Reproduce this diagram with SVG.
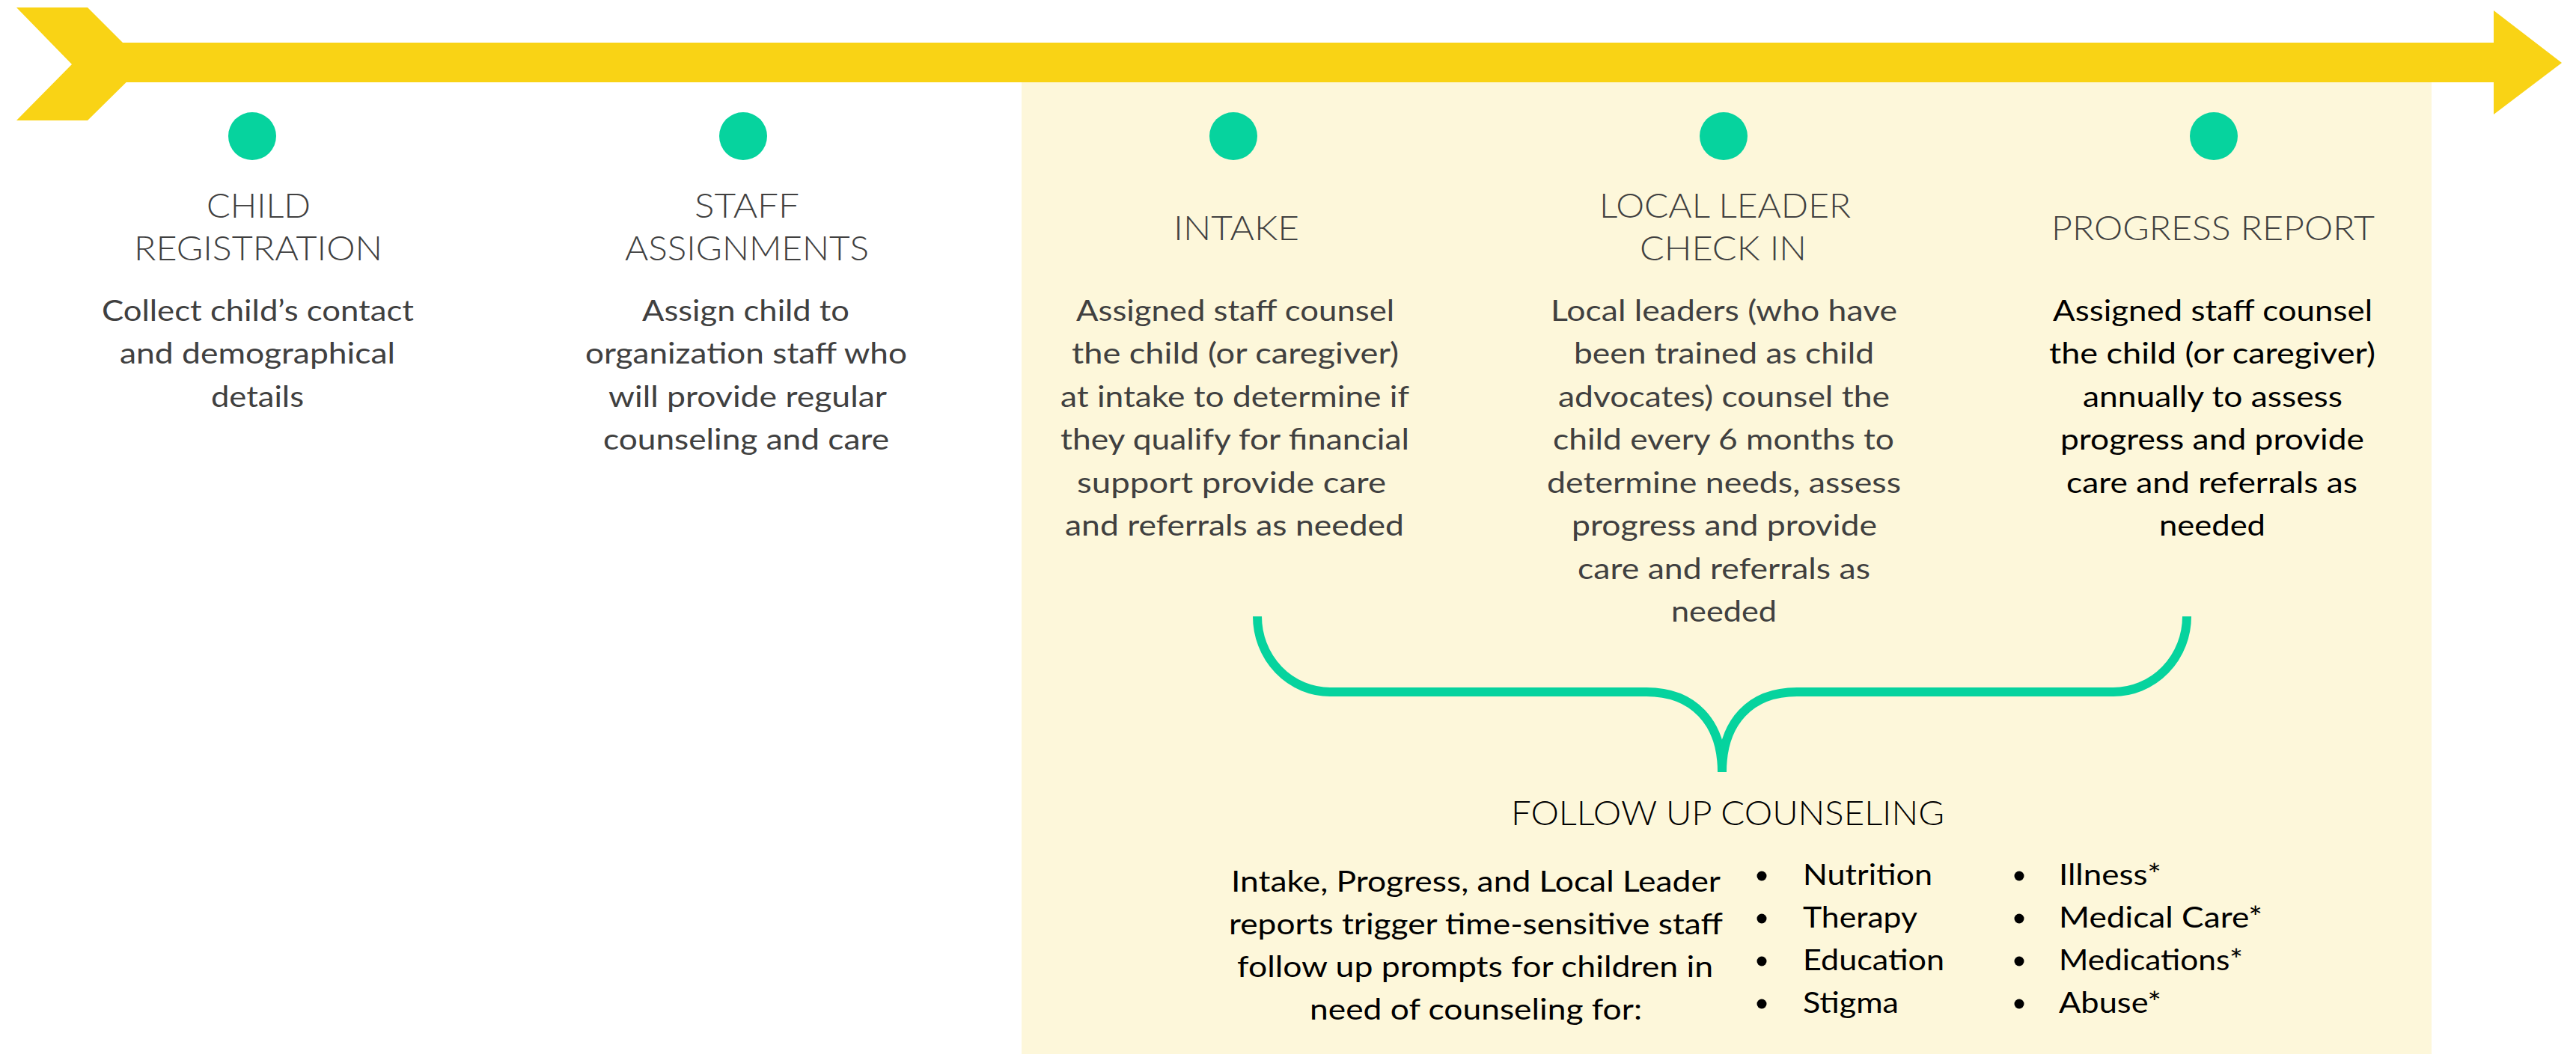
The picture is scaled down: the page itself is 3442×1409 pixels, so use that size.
<svg xmlns="http://www.w3.org/2000/svg" width="3442" height="1409" viewBox="0 0 3442 1409">
<style>
.t{font-family:Lato,"Liberation Sans",sans-serif;font-weight:300;font-size:46px;fill:#404040;text-anchor:middle}
.b{font-family:Lato,"Liberation Sans",sans-serif;font-weight:400;font-size:39px;fill:#404040;text-anchor:middle}
.k{fill:#000}
.s{text-anchor:start}
.dot{fill:#06D39E}
.bul{fill:#000}
</style>
<rect width="3442" height="1409" fill="#FFFFFF"/>
<rect id="panel" x="1365" y="110" width="1884" height="1299" fill="#FDF7DA"/>
<g id="timeline" fill="#F9D315">
<rect x="140" y="57" width="3194" height="53"/>
<polygon points="22,10 117,10 193,86 117,161 22,161 96,86"/>
<polygon points="3332,14 3423,84 3332,153"/>
</g>
<g id="connectors">
<path d="M1680,824 A97,101 0 0 0 1777,925 L2200,925 C2262,925 2301,965 2301,1032" fill="none" stroke="#06D39E" stroke-width="12"/>
<path d="M2922,824 A98,101 0 0 1 2824,925 L2401,925 C2339,925 2301,965 2301,1032" fill="none" stroke="#06D39E" stroke-width="12"/>
</g>
<g id="child-registration">
<circle class="dot" cx="337" cy="182" r="32"/>
<text class="t" x="345.5" y="291" textLength="139" lengthAdjust="spacingAndGlyphs">CHILD</text>
<text class="t" x="345" y="348" textLength="332" lengthAdjust="spacingAndGlyphs">REGISTRATION</text>
<text class="b" x="344.5" y="429" textLength="417" lengthAdjust="spacingAndGlyphs">Collect child’s contact</text>
<text class="b" x="344" y="486" textLength="368" lengthAdjust="spacingAndGlyphs">and demographical</text>
<text class="b" x="344" y="544" textLength="124" lengthAdjust="spacingAndGlyphs">details</text>
</g>
<g id="staff-assignments">
<circle class="dot" cx="993" cy="182" r="32"/>
<text class="t" x="998" y="291" textLength="140" lengthAdjust="spacingAndGlyphs">STAFF</text>
<text class="t" x="998" y="348" textLength="326" lengthAdjust="spacingAndGlyphs">ASSIGNMENTS</text>
<text class="b" x="996.5" y="429" textLength="277" lengthAdjust="spacingAndGlyphs">Assign child to</text>
<text class="b" x="997" y="486" textLength="430" lengthAdjust="spacingAndGlyphs">organization staff who</text>
<text class="b" x="999" y="544" textLength="372" lengthAdjust="spacingAndGlyphs">will provide regular</text>
<text class="b" x="997" y="601" textLength="382" lengthAdjust="spacingAndGlyphs">counseling and care</text>
</g>
<g id="intake">
<circle class="dot" cx="1648" cy="182" r="32"/>
<text class="t" x="1652" y="321" textLength="168" lengthAdjust="spacingAndGlyphs">INTAKE</text>
<text class="b" x="1650.5" y="429" textLength="425" lengthAdjust="spacingAndGlyphs">Assigned staff counsel</text>
<text class="b" x="1650.5" y="486" textLength="437" lengthAdjust="spacingAndGlyphs">the child (or caregiver)</text>
<text class="b" x="1650" y="544" textLength="466" lengthAdjust="spacingAndGlyphs">at intake to determine if</text>
<text class="b" x="1650" y="601" textLength="466" lengthAdjust="spacingAndGlyphs">they qualify for financial</text>
<text class="b" x="1645.5" y="659" textLength="413" lengthAdjust="spacingAndGlyphs">support provide care</text>
<text class="b" x="1649.5" y="716" textLength="453" lengthAdjust="spacingAndGlyphs">and referrals as needed</text>
</g>
<g id="local-leader-check-in">
<circle class="dot" cx="2303" cy="182" r="32"/>
<text class="t" x="2305" y="291" textLength="336" lengthAdjust="spacingAndGlyphs">LOCAL LEADER</text>
<text class="t" x="2302.5" y="348" textLength="223" lengthAdjust="spacingAndGlyphs">CHECK IN</text>
<text class="b" x="2303.5" y="429" textLength="463" lengthAdjust="spacingAndGlyphs">Local leaders (who have</text>
<text class="b" x="2303.5" y="486" textLength="401" lengthAdjust="spacingAndGlyphs">been trained as child</text>
<text class="b" x="2303.5" y="544" textLength="443" lengthAdjust="spacingAndGlyphs">advocates) counsel the</text>
<text class="b" x="2303" y="601" textLength="456" lengthAdjust="spacingAndGlyphs">child every 6 months to</text>
<text class="b" x="2303.5" y="659" textLength="473" lengthAdjust="spacingAndGlyphs">determine needs, assess</text>
<text class="b" x="2304" y="716" textLength="408" lengthAdjust="spacingAndGlyphs">progress and provide</text>
<text class="b" x="2303.5" y="774" textLength="391" lengthAdjust="spacingAndGlyphs">care and referrals as</text>
<text class="b" x="2303.5" y="831" textLength="141" lengthAdjust="spacingAndGlyphs">needed</text>
</g>
<g id="progress-report">
<circle class="dot" cx="2958" cy="182" r="32"/>
<text class="t" x="2957" y="321" textLength="432" lengthAdjust="spacingAndGlyphs">PROGRESS REPORT</text>
<text class="b k" x="2956.5" y="429" textLength="427" lengthAdjust="spacingAndGlyphs">Assigned staff counsel</text>
<text class="b k" x="2956" y="486" textLength="436" lengthAdjust="spacingAndGlyphs">the child (or caregiver)</text>
<text class="b k" x="2956.5" y="544" textLength="347" lengthAdjust="spacingAndGlyphs">annually to assess</text>
<text class="b k" x="2956" y="601" textLength="406" lengthAdjust="spacingAndGlyphs">progress and provide</text>
<text class="b k" x="2955.5" y="659" textLength="389" lengthAdjust="spacingAndGlyphs">care and referrals as</text>
<text class="b k" x="2956" y="716" textLength="142" lengthAdjust="spacingAndGlyphs">needed</text>
</g>
<g id="follow-up-counseling">
<text class="t k" x="2308.5" y="1103" font-size="44" textLength="579" lengthAdjust="spacingAndGlyphs">FOLLOW UP COUNSELING</text>
<text class="b k" x="1972" y="1192" textLength="654" lengthAdjust="spacingAndGlyphs">Intake, Progress, and Local Leader</text>
<text class="b k" x="1972" y="1249" textLength="660" lengthAdjust="spacingAndGlyphs">reports trigger time-sensitive staff</text>
<text class="b k" x="1971" y="1306" textLength="636" lengthAdjust="spacingAndGlyphs">follow up prompts for children in</text>
<text class="b k" x="1972" y="1363" textLength="444" lengthAdjust="spacingAndGlyphs">need of counseling for:</text>
<circle class="bul" cx="2354" cy="1171" r="6.5"/>
<circle class="bul" cx="2354" cy="1228" r="6.5"/>
<circle class="bul" cx="2354" cy="1285" r="6.5"/>
<circle class="bul" cx="2354" cy="1342" r="6.5"/>
<text class="b k s" x="2409" y="1183" textLength="173" lengthAdjust="spacingAndGlyphs">Nutrition</text>
<text class="b k s" x="2409" y="1240" textLength="153" lengthAdjust="spacingAndGlyphs">Therapy</text>
<text class="b k s" x="2409" y="1297" textLength="189" lengthAdjust="spacingAndGlyphs">Education</text>
<text class="b k s" x="2409" y="1354" textLength="128" lengthAdjust="spacingAndGlyphs">Stigma</text>
<circle class="bul" cx="2698" cy="1171" r="6.5"/>
<circle class="bul" cx="2698" cy="1228" r="6.5"/>
<circle class="bul" cx="2698" cy="1285" r="6.5"/>
<circle class="bul" cx="2698" cy="1342" r="6.5"/>
<text class="b k s" x="2751" y="1183" textLength="137" lengthAdjust="spacingAndGlyphs">Illness*</text>
<text class="b k s" x="2751" y="1240" textLength="272" lengthAdjust="spacingAndGlyphs">Medical Care*</text>
<text class="b k s" x="2751" y="1297" textLength="246" lengthAdjust="spacingAndGlyphs">Medications*</text>
<text class="b k s" x="2751" y="1354" textLength="137" lengthAdjust="spacingAndGlyphs">Abuse*</text>
</g>
</svg>
